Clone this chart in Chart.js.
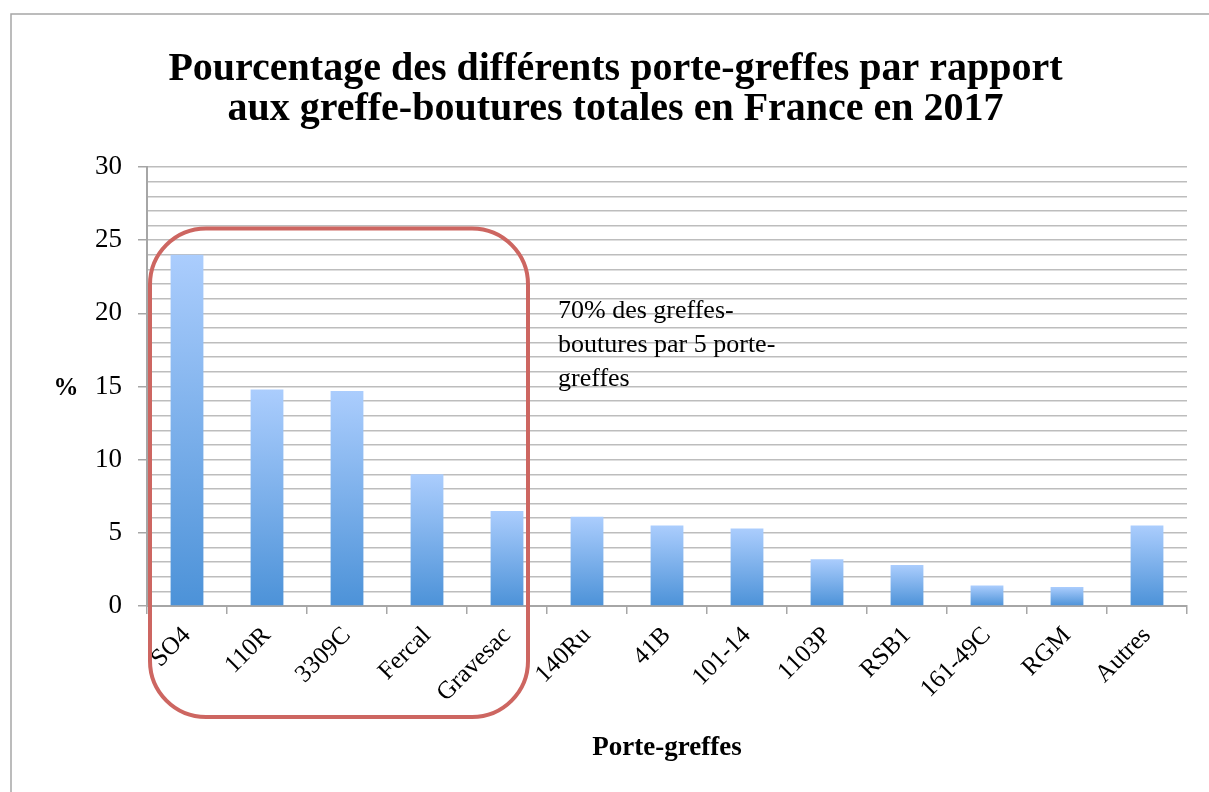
<!DOCTYPE html>
<html lang="fr">
<head>
<meta charset="UTF-8">
<script src="https://cdn.jsdelivr.net/npm/chart.js"></script>
<title>Porte-greffes 2017</title>
<style>
    html, body { margin: 0; padding: 0; background: #fff; }
    .wrap { position: relative; width: 1209px; height: 792px; }
</style>
</head>
<body>
<div class="wrap"><canvas id="chart" width="1209" height="792"></canvas></div>
<script>
const categories = ['SO4', '110R', '3309C', 'Fercal', 'Gravesac', '140Ru', '41B', '101-14', '1103P', 'RSB1', '161-49C', 'RGM', 'Autres'];
const percentages = [24.0, 14.8, 14.7, 9.0, 6.5, 6.1, 5.5, 5.3, 3.2, 2.8, 1.4, 1.3, 5.5];
const yTicks = [0, 5, 10, 15, 20, 25, 30];
const titleLines = ['Pourcentage des différents porte-greffes par rapport', 'aux greffe-boutures totales en France en 2017'];
const noteLines = ['70% des greffes-', 'boutures par 5 porte-', 'greffes'];

const serif = "'Liberation Serif', 'DejaVu Serif', serif";

// frame, red box round the first 5 bars, note text and the "%" label
const extras = {
    id: 'extras',
    beforeDraw(chart) {
        const c = chart.ctx;
        c.save();
        c.strokeStyle = '#a6a6a6';
        c.lineWidth = 1.5;
        c.beginPath();
        c.moveTo(11, 792);
        c.lineTo(11, 14);
        c.lineTo(1209, 14);
        c.stroke();
        c.restore();
    },
    afterDraw(chart) {
        const c = chart.ctx;
        const x = chart.scales.x, y = chart.scales.y;
        c.save();
        // box
        const left = chart.chartArea.left + 3;
        const right = x.getPixelForValue(4) + 21;
        const top = y.getPixelForValue(25.8);
        const bottom = chart.chartArea.bottom + 111;
        c.strokeStyle = '#cd6661';
        c.lineWidth = 4;
        c.beginPath();
        c.roundRect(left, top, right - left, bottom - top, 56);
        c.stroke();

        // note
        c.fillStyle = '#000';
        c.font = '26px ' + serif;
        c.textBaseline = 'alphabetic';
        noteLines.forEach((t, i) => c.fillText(t, 558, 318 + i * 34));

        // y title, horizontal
        c.font = 'bold 25px ' + serif;
        c.textAlign = 'center';
        c.textBaseline = 'middle';
        c.fillText('%', 66, y.getPixelForValue(15) + 2);
        c.restore();
    }
};

const ctx = document.getElementById('chart').getContext('2d');

function barGradient(context) {
    const chart = context.chart;
    if (!chart.chartArea) return '#6fa8e8';
    const y = chart.scales.y;
    const g = chart.ctx.createLinearGradient(0, y.getPixelForValue(context.raw), 0, y.getPixelForValue(0));
    g.addColorStop(0, '#abcdfd');
    g.addColorStop(1, '#4c92d8');
    return g;
}

new Chart(ctx, {
    type: 'bar',
    data: {
        labels: categories,
        datasets: [{
            data: percentages,
            backgroundColor: barGradient,
            borderWidth: 0,
            barPercentage: 0.41,
            categoryPercentage: 1.0
        }]
    },
    plugins: [extras],
    options: {
        responsive: false,
        animation: false,
        layout: { padding: { left: 44, right: 22, top: 0, bottom: 0 } },
        plugins: {
            legend: { display: false },
            tooltip: { enabled: false },
            title: {
                display: true,
                text: titleLines,
                color: '#000',
                font: { family: serif, size: 40, weight: 'bold', lineHeight: 1.0 },
                padding: { top: 50, bottom: 37 }
            }
        },
        scales: {
            x: {
                afterFit(scale) { scale.height = 186; },
                grid: {
                    offset: true,
                    drawOnChartArea: false,
                    color: '#a6a6a6',
                    lineWidth: 1.5,
                    tickLength: 8
                },
                border: { color: '#a6a6a6', width: 2 },
                ticks: {
                    color: '#000',
                    font: { family: serif, size: 25 },
                    minRotation: 45,
                    maxRotation: 45,
                    autoSkip: false,
                    padding: 7
                },
                title: {
                    display: true,
                    text: 'Porte-greffes',
                    color: '#000',
                    font: { family: serif, size: 27, weight: 'bold' },
                    padding: { top: 0, bottom: 28 }
                }
            },
            y: {
                min: 0,
                max: 30,
                afterFit(scale) { scale.width = 103; },
                grid: {
                    color: '#bdbdbd',
                    lineWidth: 1.5,
                    tickLength: 9,
                    tickColor: (c) => yTicks.includes(c.tick && c.tick.value) ? '#a6a6a6' : 'rgba(0,0,0,0)'
                },
                border: { color: '#a6a6a6', width: 2 },
                ticks: {
                    stepSize: 1,
                    autoSkip: false,
                    color: '#000',
                    font: { family: serif, size: 27 },
                    padding: 16,
                    callback: (v) => yTicks.includes(v) ? String(v) : ''
                }
            }
        }
    }
});
</script>
</body>
</html>
